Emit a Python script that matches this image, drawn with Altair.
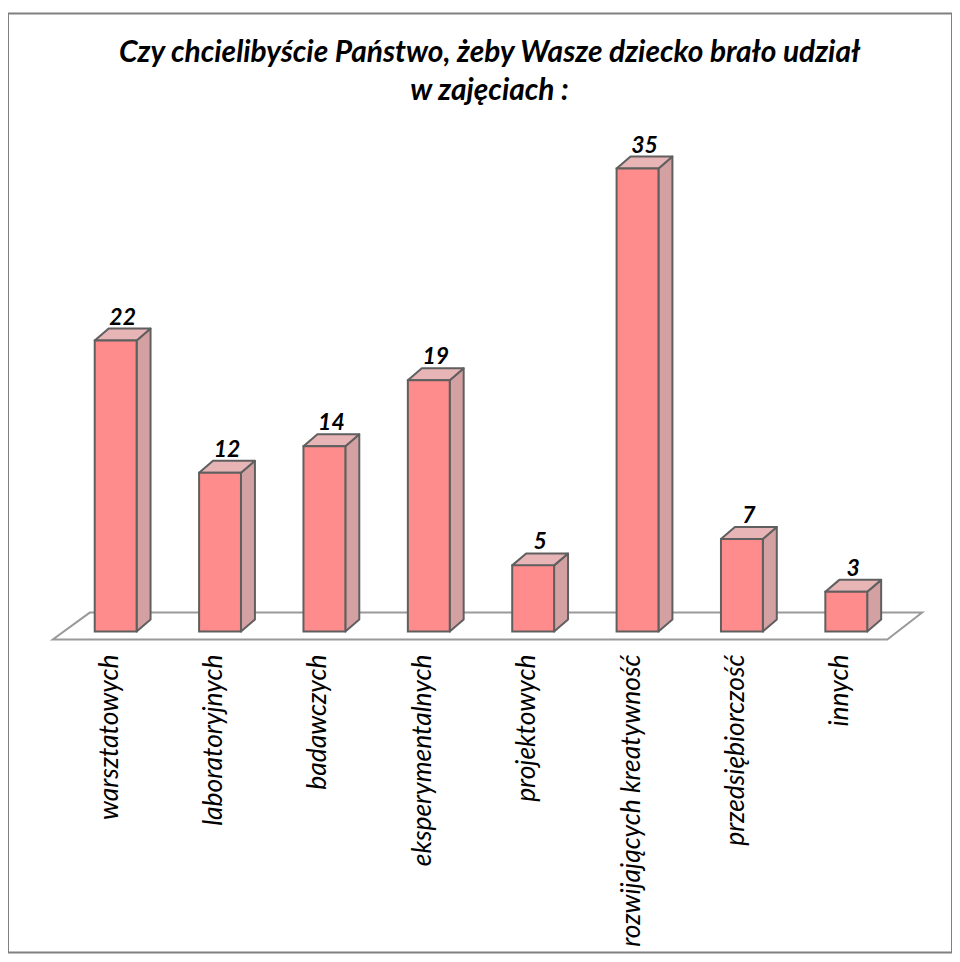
import altair as alt
import pandas as pd

categories = ["warsztatowych", "laboratoryjnych", "badawczych", "eksperymentalnych",
              "projektowych", "rozwijających kreatywność", "przedsiębiorczość", "innych"]
values = [22, 12, 14, 19, 5, 35, 7, 3]
title_lines = ["Czy chcielibyście Państwo, żeby Wasze dziecko brało udział", "w zajęciach :"]

# geometry (category units / value units)
HALF = 0.2006
DX = 0.1337
DY = 0.904
X0, X1 = -1.0315, 8.013
Y0, Y1 = -24.265, 46.72
W, H = 947, 942
FONT = "Lato"

front = pd.DataFrame({
    "cat": categories,
    "x": [i - HALF for i in range(len(values))],
    "x2": [i + HALF for i in range(len(values))],
    "y": [0] * len(values),
    "y2": values,
})

side_rows, top_rows = [], []
for i, (c, v) in enumerate(zip(categories, values)):
    side_rows += [
        {"cat": c, "x": i + HALF, "lo": 0, "hi": v},
        {"cat": c, "x": i + HALF + DX, "lo": DY, "hi": v + DY},
    ]
    top_rows += [
        {"cat": c, "x": i - HALF, "lo": v, "hi": v},
        {"cat": c, "x": i - HALF + DX, "lo": v, "hi": v + DY},
        {"cat": c, "x": i + HALF, "lo": v, "hi": v + DY},
        {"cat": c, "x": i + HALF + DX, "lo": v + DY, "hi": v + DY},
    ]
side = pd.DataFrame(side_rows)
top = pd.DataFrame(top_rows)

floor = pd.DataFrame({
    "x": [-0.602, -0.248, 7.393, 7.727],
    "lo": [-0.6, -0.6, -0.6, 1.43],
    "hi": [-0.6, 1.43, 1.43, 1.43],
})

vlabels = pd.DataFrame({
    "x": [i + DX / 2 for i in range(len(values))],
    "y": [v + DY for v in values],
    "t": [str(v) for v in values],
})

clabels = pd.DataFrame({
    "x": list(range(len(categories))),
    "y": [-1.733] * len(categories),
    "t": categories,
})

titles = pd.DataFrame({"x": [3.582, 3.582], "y": [43.71, 40.84], "t": title_lines})

xs = alt.Scale(domain=[X0, X1], nice=False, zero=False)
ys = alt.Scale(domain=[Y0, Y1], nice=False, zero=False)

def X(f):
    return alt.X(f"{f}:Q", scale=xs, axis=None)

def Y(f):
    return alt.Y(f"{f}:Q", scale=ys, axis=None)

floor_l = alt.Chart(floor).mark_area(fill="white", stroke="#9a9a9a", strokeWidth=2).encode(
    x=X("x"), y=Y("lo"), y2="hi")

side_l = alt.Chart(side).mark_area(fill="#d4a1a3", stroke="#5f5f5f", strokeWidth=2,
                                   strokeJoin="round").encode(
    x=X("x"), y=Y("lo"), y2="hi", detail="cat:N")

top_l = alt.Chart(top).mark_area(fill="#e8b5b7", stroke="#5f5f5f", strokeWidth=2,
                                 strokeJoin="round").encode(
    x=X("x"), y=Y("lo"), y2="hi", detail="cat:N")

front_l = alt.Chart(front).mark_rect(fill="#ff8c8c", stroke="#5f5f5f", strokeWidth=2).encode(
    x=X("x"), x2="x2", y=Y("y"), y2="y2")

val_l = alt.Chart(vlabels).mark_text(font=FONT, fontSize=23, fontWeight="bold", fontStyle="italic",
                                     baseline="alphabetic", dy=-4, color="black").encode(
    x=X("x"), y=Y("y"), text="t:N")

cat_l = alt.Chart(clabels).mark_text(font=FONT, fontSize=26.5, fontStyle="italic", angle=270,
                                     align="right", baseline="middle", dy=-6, color="black").encode(
    x=X("x"), y=Y("y"), text="t:N")

title_l = alt.Chart(titles).mark_text(font=FONT, fontSize=30, fontWeight="bold", fontStyle="italic",
                                      baseline="middle", color="black").encode(
    x=X("x"), y=Y("y"), text="t:N")

chart = alt.layer(floor_l, side_l, top_l, front_l, val_l, cat_l, title_l).properties(
    width=W, height=H,
    autosize=alt.AutoSizeParams(type="none"),
    padding={"left": 0, "top": 4, "right": 0, "bottom": 0},
).configure_view(stroke="#808080", strokeWidth=2)

chart.save("out.html", embed_options={"renderer": "svg", "actions": False})
